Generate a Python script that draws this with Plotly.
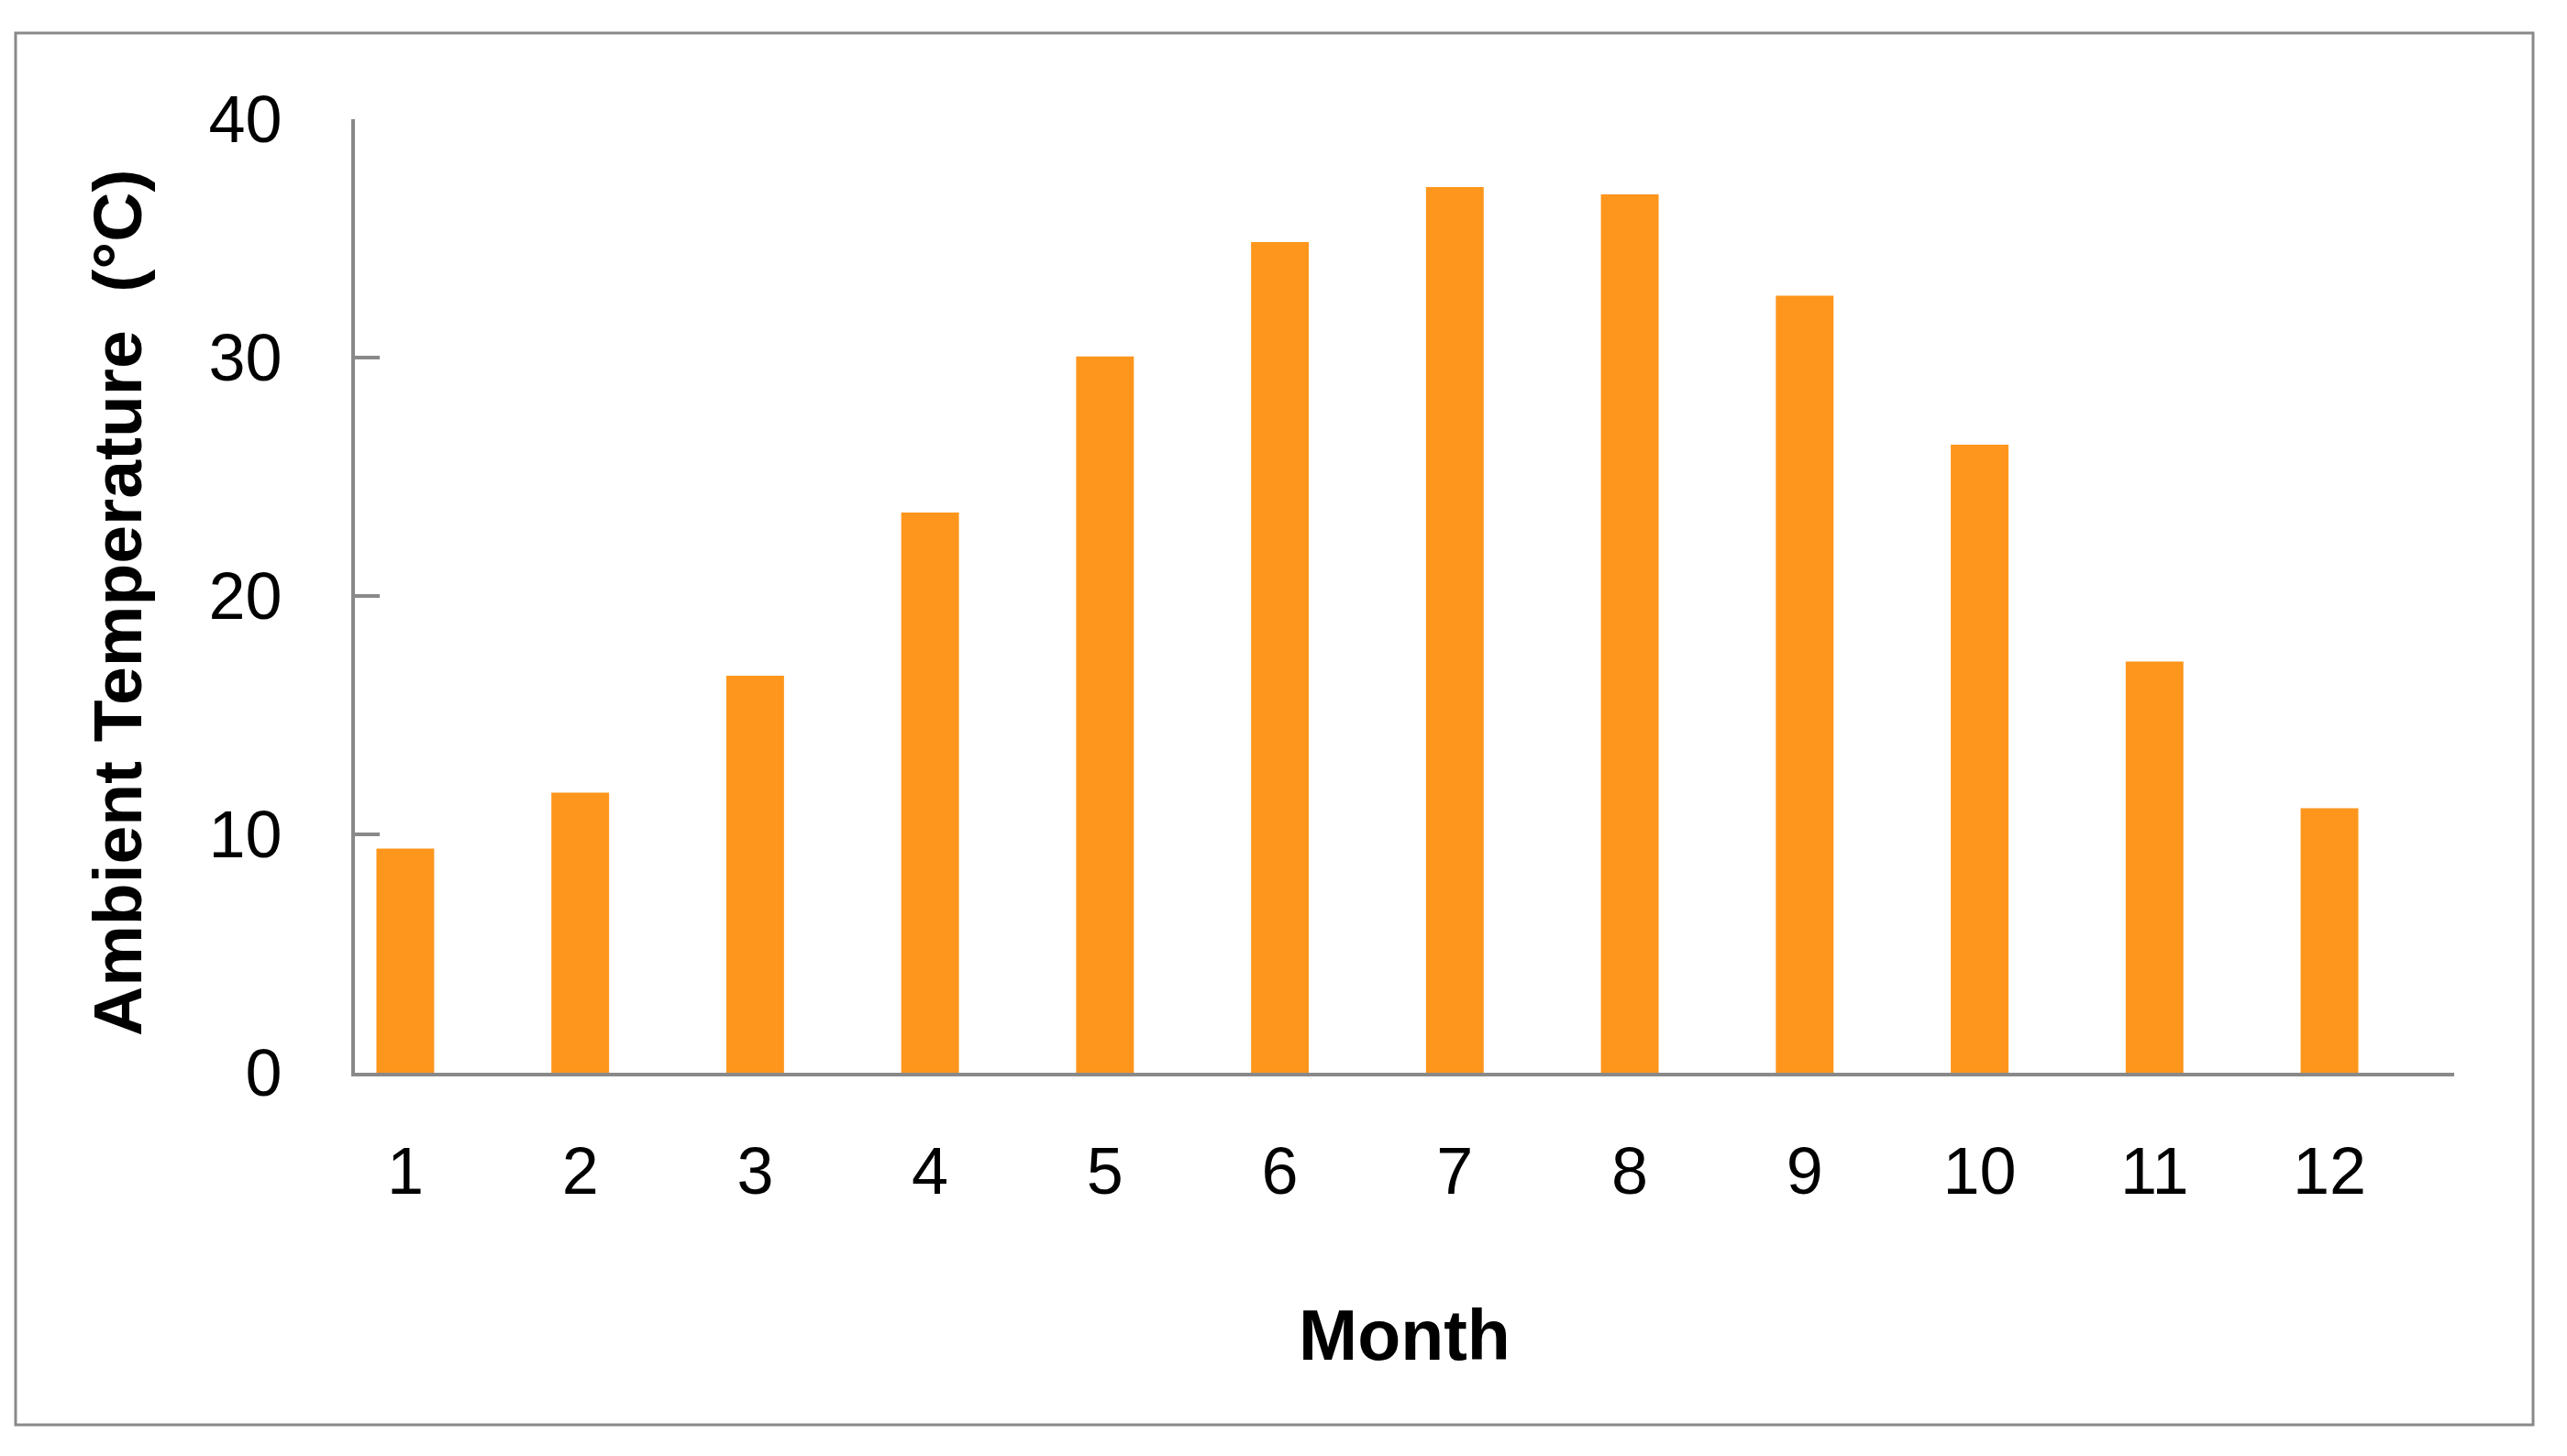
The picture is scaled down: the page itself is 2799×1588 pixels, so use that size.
import plotly.graph_objects as go

months = ["1", "2", "3", "4", "5", "6", "7", "8", "9", "10", "11", "12"]
temperature = [9.4, 11.75, 16.65, 23.5, 30.05, 34.85, 37.15, 36.85, 32.6, 26.35, 17.25, 11.1]
y_ticks = [0, 10, 20, 30, 40]

W, H = 2799, 1588
L, R, T, B = 387, 123, 130, 418
pw, ph = W - L - R, H - T - B

def px_x(p):
    return (p - L) / pw

def px_y(p):
    return (H - B - p) / ph

axis_gray = "#898989"

fig = go.Figure()
fig.add_trace(go.Bar(
    x=months, y=temperature,
    marker=dict(color="#FE961D", line=dict(width=0)),
    width=0.33,
))

fig.update_layout(
    width=W, height=H,
    margin=dict(l=L, r=R, t=T, b=B),
    paper_bgcolor="white", plot_bgcolor="white",
    showlegend=False,
    font=dict(family="Liberation Sans", color="black"),
    xaxis=dict(
        type="category",
        range=[-0.288, 11.713],
        showline=True, linecolor=axis_gray, linewidth=4,
        ticks="", showgrid=False, zeroline=False,
        tickfont=dict(size=72, family="Liberation Sans", color="black"),
        ticklabelstandoff=42,
    ),
    yaxis=dict(
        range=[0, 40],
        tickvals=y_ticks,
        showline=True, linecolor=axis_gray, linewidth=4,
        ticks="inside", ticklen=27, tickwidth=4, tickcolor=axis_gray,
        showgrid=False, zeroline=False,
        tickfont=dict(size=72, family="Liberation Sans", color="black"),
        ticklabelstandoff=61,
    ),
    annotations=[
        dict(
            text="<b>Ambient Temperature\u00a0 (°C)</b>",
            xref="paper", yref="paper",
            x=px_x(128), y=px_y(658),
            xanchor="center", yanchor="middle",
            textangle=-90, showarrow=False,
            font=dict(size=75, family="Liberation Sans", color="black"),
        ),
        dict(
            text="<b>Month</b>",
            xref="paper", yref="paper",
            x=px_x(1531), y=px_y(1456),
            xanchor="center", yanchor="middle",
            showarrow=False,
            font=dict(size=77, family="Liberation Sans", color="black"),
        ),
    ],
    shapes=[
        dict(
            type="rect", xref="paper", yref="paper",
            x0=px_x(17), x1=px_x(2762), y0=px_y(1554), y1=px_y(36),
            line=dict(color=axis_gray, width=3), fillcolor="rgba(0,0,0,0)",
            layer="below",
        )
    ],
)

fig.write_html("out.html", config={"displayModeBar": False},
               post_script="document.body.style.margin='0';")
